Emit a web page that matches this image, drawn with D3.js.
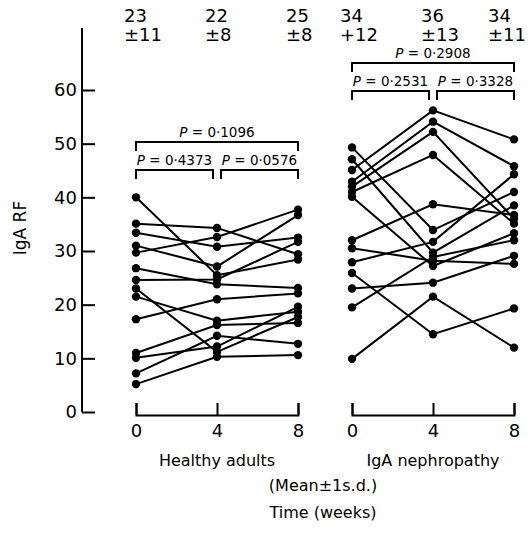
<!DOCTYPE html>
<html>
<head>
<meta charset="utf-8">
<script src="https://cdn.jsdelivr.net/npm/d3@7"></script>
<style>
  body { margin: 0; background: #fff; }
  svg { display: block; font-family: "DejaVu Sans", sans-serif; }
</style>
</head>
<body>
<div id="chart"></div>
<script>
// weeks on the x axis
var weeks = [0, 4, 8]
var yTicks = [0, 10, 20, 30, 40, 50, 60]

// IgA RF per subject at week 0, 4, 8
var healthy = [
  [40.0, 25.5, 28.4], [35.1, 34.3, 29.4], [33.4, 30.8, 32.5], [31.0, 27.1, 36.7],
  [29.7, 32.6, 37.7], [26.8, 23.8, 23.1], [24.6, 24.7, 31.7], [23.0, 11.2, 17.7],
  [21.5, 17.0, 18.7], [17.3, 21.0, 22.1], [11.0, 16.2, 16.6], [10.1, 12.2, 19.6],
  [7.2, 14.2, 12.7], [5.2, 10.3, 10.6]
]
var nephro = [
  [49.3, 33.9, 41.0], [47.1, 29.7, 38.5], [45.1, 56.2, 50.8], [42.9, 54.1, 45.8],
  [42.0, 52.2, 36.0], [41.0, 47.9, 35.1], [40.1, 27.2, 33.3], [32.0, 38.7, 36.7],
  [30.5, 28.2, 27.6], [27.9, 31.7, 44.3], [25.9, 14.5, 19.3], [23.0, 24.1, 29.1],
  [19.5, 28.9, 32.0], [9.9, 21.5, 12.0]
]

// mean and s.d. printed on top
var healthyMean = ["23", "22", "25"]
var healthySd = ["±11", "±8", "±8"]
var nephroMean = ["34", "36", "34"]
var nephroSd = ["+12", "±13", "±11"]

// P values: [overall 0-8, 0-4, 4-8]
var healthyP = ["0·1096", "0·4373", "0·0576"]
var nephroP = ["0·2908", "0·2531", "0·3328"]

var svg = d3.select("#chart").append("svg")
  .attr("width", 529)
  .attr("height", 536)

var y = d3.scaleLinear().domain([0, 60]).range([412, 90])
var xH = d3.scaleLinear().domain([0, 8]).range([136, 298])
var xN = d3.scaleLinear().domain([0, 8]).range([352, 514])

// y axis, ticks pointing inwards
svg.append("line")
  .attr("x1", 82).attr("x2", 82)
  .attr("y1", 28).attr("y2", y(0))
  .attr("stroke", "#000").attr("stroke-width", 2)

var yAxis = svg.append("g")
  .attr("transform", "translate(82,0)")
  .call(d3.axisLeft(y).tickValues(yTicks).tickSizeInner(-13).tickSizeOuter(0).tickPadding(5))
yAxis.select(".domain").remove()
yAxis.selectAll("line").attr("stroke-width", 2)
yAxis.selectAll("text").attr("font-size", 18).attr("font-family", "DejaVu Sans").attr("fill", "#000")

svg.append("text")
  .attr("transform", "translate(26,228) rotate(-90)")
  .attr("text-anchor", "middle")
  .attr("font-size", 17)
  .text("IgA RF")

function panel(x, data, mean, sd, pv, topY, label) {
  // bracket axis at the bottom
  var ax = svg.append("g")
    .attr("transform", "translate(0,415)")
    .call(d3.axisBottom(x).tickValues(weeks).tickSizeInner(-12).tickSizeOuter(-12).tickPadding(9))
  ax.select(".domain").attr("stroke-width", 2)
  ax.selectAll("line").attr("stroke-width", 2)
  ax.selectAll("text").attr("font-size", 18).attr("font-family", "DejaVu Sans").attr("fill", "#000")

  svg.append("text")
    .attr("x", x(4)).attr("y", 466)
    .attr("text-anchor", "middle")
    .attr("font-size", 16)
    .text(label)

  // subject lines
  var line = d3.line().x((d, i) => x(weeks[i])).y(d => y(d))
  svg.append("g").selectAll("path")
    .data(data)
    .enter().append("path")
    .attr("d", line)
    .attr("fill", "none")
    .attr("stroke", "#000")
    .attr("stroke-width", 2)

  var pts = []
  data.forEach(s => s.forEach((v, i) => pts.push([weeks[i], v])))
  svg.append("g").selectAll("circle")
    .data(pts)
    .enter().append("circle")
    .attr("cx", d => x(d[0]))
    .attr("cy", d => y(d[1]))
    .attr("r", 4.2)
    .attr("fill", "#000")

  // mean +- sd
  weeks.forEach((w, i) => {
    var tx = Math.min(x(w) - 12, 488)
    svg.append("text").attr("x", tx).attr("y", 22)
      .attr("font-size", 18).text(mean[i])
    svg.append("text").attr("x", tx).attr("y", 41)
      .attr("font-size", 18).text(sd[i])
  })

  // P brackets
  var outer = topY, inner = topY + 28
  function bracket(x0, x1, top, p) {
    svg.append("path")
      .attr("d", "M" + x0 + "," + (top + 9) + "V" + top + "H" + x1 + "V" + (top + 9))
      .attr("fill", "none").attr("stroke", "#000").attr("stroke-width", 2)
    var t = svg.append("text")
      .attr("x", (x0 + x1) / 2).attr("y", top - 5)
      .attr("text-anchor", "middle")
      .attr("font-size", 13.5)
    t.append("tspan").attr("font-style", "italic").text("P")
    t.append("tspan").text(" = " + p)
  }
  bracket(x(0), x(8), outer, pv[0])
  bracket(x(0), x(4) - 4, inner, pv[1])
  bracket(x(4) + 4, x(8), inner, pv[2])
}

panel(xH, healthy, healthyMean, healthySd, healthyP, 142, "Healthy adults")
panel(xN, nephro, nephroMean, nephroSd, nephroP, 63, "IgA nephropathy")

svg.append("text")
  .attr("x", 323).attr("y", 491)
  .attr("text-anchor", "middle")
  .attr("font-size", 16)
  .text("(Mean±1s.d.)")

svg.append("text")
  .attr("x", 323).attr("y", 518)
  .attr("text-anchor", "middle")
  .attr("font-size", 16)
  .text("Time (weeks)")
</script>
</body>
</html>
